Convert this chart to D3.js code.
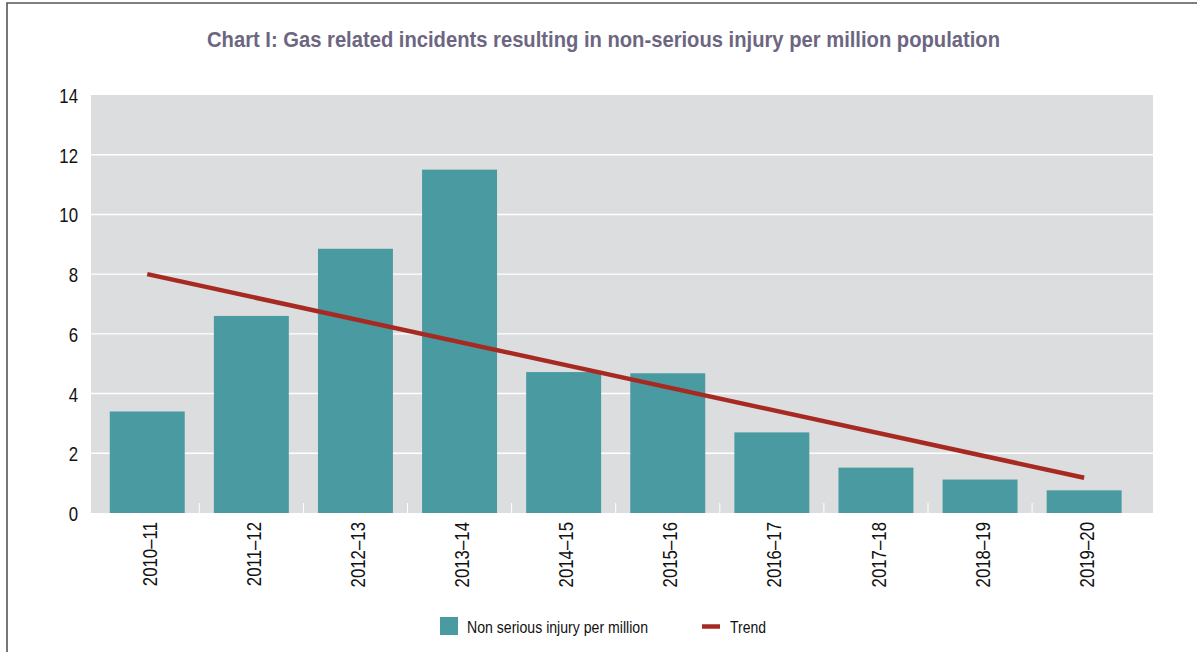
<!DOCTYPE html>
<html>
<head>
<meta charset="utf-8">
<script src="https://cdn.jsdelivr.net/npm/d3@7"></script>
<style>
	body { margin: 0; background: #fff; }
	svg text { font-family: "Liberation Sans", Arial, sans-serif; }
</style>
</head>
<body>
<div id="chart"></div>
<script>
const years = ["2010–11", "2011–12", "2012–13", "2013–14", "2014–15", "2015–16", "2016–17", "2017–18", "2018–19", "2019–20"];
const injuries = [3.4, 6.6, 8.85, 11.5, 4.72, 4.68, 2.7, 1.52, 1.12, 0.76];
// trend line end points
const trendYears = ["2010–11", "2019–20"];
const trendValues = [8.0, 1.18];
const yTicks = [0, 2, 4, 6, 8, 10, 12, 14];

const W = 1197, H = 652;
const plot = {left: 91, right: 1153, top: 95, bottom: 513};
const narrow = 0.8; // the original uses a condensed face

// squeeze text horizontally, keeping its anchor
function condense(sel, k) {
	sel.each(function() {
		let len = this.getComputedTextLength();
		d3.select(this)
			.attr("textLength", len * k)
			.attr("lengthAdjust", "spacingAndGlyphs");
	});
}

let svg = d3.select("#chart").append("svg")
	.attr("width", W)
	.attr("height", H);

// frame (top and left edges only)
svg.append("path")
	.attr("d", "M7," + H + " V3 H" + W)
	.attr("fill", "none")
	.attr("stroke", "#555")
	.attr("stroke-width", 1.6);

svg.append("text")
	.attr("x", 207)
	.attr("y", 47)
	.style("font-size", "22px")
	.style("font-weight", "bold")
	.attr("fill", "#6d6681")
	.attr("textLength", 793)
	.attr("lengthAdjust", "spacingAndGlyphs")
	.text("Chart I: Gas related incidents resulting in non-serious injury per million population");

let x = d3.scaleBand()
	.domain(years)
	.range([95.2, 95.2 + 10 * 104.1])
	.paddingInner(0.28)
	.paddingOuter(0.14);

let y = d3.scaleLinear()
	.domain([0, 14])
	.range([plot.bottom, plot.top]);

svg.append("rect")
	.attr("x", plot.left)
	.attr("y", plot.top)
	.attr("width", plot.right - plot.left)
	.attr("height", plot.bottom - plot.top)
	.attr("fill", "#dcdddf");

// gridlines
svg.selectAll("line.grid")
	.data(yTicks.filter(d => d > 0 && d < 14))
	.enter().append("line")
	.attr("class", "grid")
	.attr("x1", plot.left)
	.attr("x2", plot.right)
	.attr("y1", d => y(d))
	.attr("y2", d => y(d))
	.attr("stroke", "#fff")
	.attr("stroke-width", 1.4);

// small white ticks between categories
svg.selectAll("line.sep")
	.data(years.slice(1))
	.enter().append("line")
	.attr("class", "sep")
	.attr("x1", d => x(d) - x.step() * x.paddingInner() / 2)
	.attr("x2", d => x(d) - x.step() * x.paddingInner() / 2)
	.attr("y1", plot.bottom - 10)
	.attr("y2", plot.bottom)
	.attr("stroke", "#fff")
	.attr("stroke-width", 1);

svg.selectAll("rect.bar")
	.data(injuries)
	.enter().append("rect")
	.attr("class", "bar")
	.attr("x", (d, i) => x(years[i]))
	.attr("y", d => y(d))
	.attr("width", x.bandwidth())
	.attr("height", d => y(0) - y(d))
	.attr("fill", "#4a9aa1");

svg.append("path")
	.datum(trendValues)
	.attr("d", d3.line()
		.x((d, i) => x(trendYears[i]) + x.bandwidth() / 2)
		.y(d => y(d)))
	.attr("fill", "none")
	.attr("stroke", "#a72a22")
	.attr("stroke-width", 4.5);

// y axis labels
let yAxis = svg.append("g")
	.attr("transform", "translate(" + (plot.left - 13) + ",0)")
	.call(d3.axisLeft(y).tickValues(yTicks).tickSize(0).tickPadding(0));
yAxis.select(".domain").remove();
yAxis.selectAll("text")
	.style("font-size", "21px")
	.attr("fill", "#111")
	.attr("dy", "0.36em")
	.call(condense, narrow);

// x axis labels, rotated
let xAxis = svg.append("g")
	.attr("transform", "translate(2," + plot.bottom + ")")
	.call(d3.axisBottom(x).tickSize(0).tickPadding(0));
xAxis.select(".domain").remove();
xAxis.selectAll("text")
	.style("font-size", "21px")
	.attr("fill", "#111")
	.attr("transform", "rotate(-90)")
	.attr("text-anchor", "end")
	.attr("x", -9)
	.attr("y", 0)
	.attr("dy", "0.36em")
	.call(condense, narrow);

// legend
let legend = svg.append("g");
legend.append("rect")
	.attr("x", 440)
	.attr("y", 617)
	.attr("width", 18)
	.attr("height", 18)
	.attr("fill", "#4a9aa1");
legend.append("text")
	.attr("x", 467)
	.attr("y", 633)
	.style("font-size", "16.5px")
	.attr("fill", "#111")
	.attr("textLength", 181)
	.attr("lengthAdjust", "spacingAndGlyphs")
	.text("Non serious injury per million");
legend.append("line")
	.attr("x1", 702)
	.attr("x2", 720)
	.attr("y1", 626.5)
	.attr("y2", 626.5)
	.attr("stroke", "#a72a22")
	.attr("stroke-width", 4.5);
legend.append("text")
	.attr("x", 730)
	.attr("y", 633)
	.style("font-size", "16.5px")
	.attr("fill", "#111")
	.attr("textLength", 36)
	.attr("lengthAdjust", "spacingAndGlyphs")
	.text("Trend");
</script>
</body>
</html>
